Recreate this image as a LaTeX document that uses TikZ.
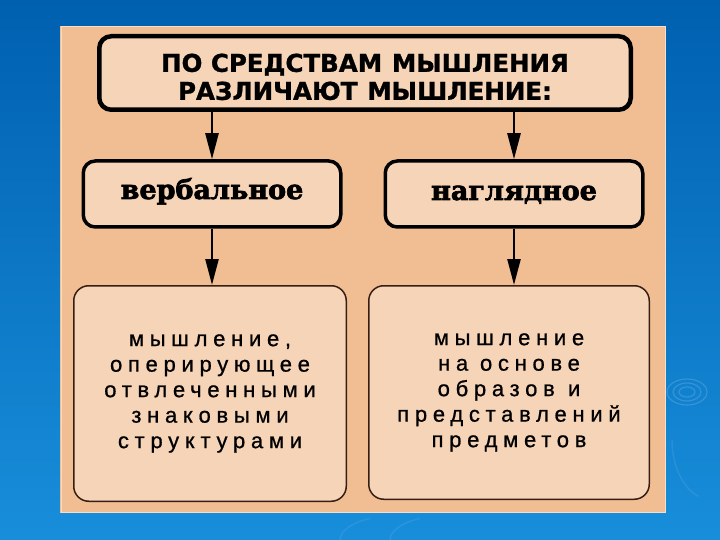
\documentclass[tikz,border=0pt]{standalone}
\usepackage{fontspec}
\setmainfont{Liberation Sans}
\newfontfamily\titlefont{DejaVu Sans}[BoldFeatures={FakeBold=1.2}]
\newfontfamily\heavyserif{DejaVu Serif}[BoldFeatures={FakeBold=2.5}]
\newfontfamily\spacedfont{Liberation Sans}[LetterSpace=26,FakeBold=0.8]
\usetikzlibrary{arrows.meta}
\definecolor{bgtop}{RGB}{0,96,176}
\definecolor{bgbot}{RGB}{24,142,218}
\definecolor{panelc}{RGB}{241,190,148}
\definecolor{boxfill}{RGB}{246,212,183}
\definecolor{thinline}{RGB}{55,30,20}
\definecolor{ripple}{RGB}{120,180,235}
\tikzset{
  topbox/.style={draw=black, fill=boxfill, line width=4.5pt, rounded corners=12pt,
    minimum width=531.5pt, minimum height=73.5pt, inner sep=0pt, align=center,
    font=\titlefont\bfseries\fontsize{24.5}{28}\selectfont},
  midbox/.style={draw=black, fill=boxfill, line width=3.5pt, rounded corners=12pt,
    minimum width=257.5pt, minimum height=66pt, inner sep=0pt,
    font=\heavyserif\bfseries\fontsize{27}{30}\selectfont},
  lowbox/.style={draw=thinline, fill=boxfill, line width=1.5pt, rounded corners=15pt,
    inner sep=0pt, align=center,
    font=\spacedfont\fontsize{22}{25.5}\selectfont},
  arr/.style={line width=2.5pt, draw=black, -{Triangle[length=26pt,width=13pt]}}
}
\begin{document}
\begin{tikzpicture}[x=1pt,y=-1pt]
\useasboundingbox (0,0) rectangle (720,540);
\shade[top color=bgtop,bottom color=bgbot] (0,0) rectangle (720,540);
% faint ripples
\foreach \rx/\ry in {20/13,14/9,8/5}{
  \draw[ripple, opacity=0.35, line width=1.2pt] (687,392) ellipse ({\rx pt} and {\ry pt});
}
\draw[ripple, opacity=0.2, line width=1.5pt] (672,440) arc[start angle=180,end angle=250,x radius=40pt,y radius=60pt];
\draw[ripple, opacity=0.2, line width=1.5pt] (340,540) arc[start angle=180,end angle=120,x radius=60pt,y radius=25pt];
\draw[ripple, opacity=0.2, line width=1.5pt] (390,540) arc[start angle=180,end angle=120,x radius=60pt,y radius=25pt];
% panel
\fill[panelc] (60,26) rectangle (666,513);
\draw[white, opacity=0.5, line width=1pt] (61,27) rectangle (665,512);
% nodes
\node[topbox] (top) at (365,73) {\rule{0pt}{26pt}ПО СРЕДСТВАМ\hspace{0.4em}МЫШЛЕНИЯ\\РАЗЛИЧАЮТ\hspace{0.4em}МЫШЛЕНИЕ:};
\node[midbox, text height=18pt, text depth=8pt] (midL) at (212,194) {вербальное};
\node[midbox, text height=19pt, text depth=7pt] (midR) at (514,194) {наглядное};
\node[lowbox, minimum width=272.5pt, minimum height=215.5pt] (lowL) at (210,393.5)
  {мышление,\\оперирующее\\отвлеченными\\знаковыми\\структурами};
\node[lowbox, minimum width=280.5pt, minimum height=213.5pt] (lowR) at (509,392.5)
  {мышление\\на основе\\образов\hspace{0.6em}и\\представлений\\предметов};
% connectors
\draw[arr] (top.south -| midL.north) -- (midL.north);
\draw[arr] (top.south -| midR.north) -- (midR.north);
\draw[arr] (midL.south) -- (lowL.north -| midL.south);
\draw[arr] (midR.south) -- (lowR.north -| midR.south);
\end{tikzpicture}
\end{document}
